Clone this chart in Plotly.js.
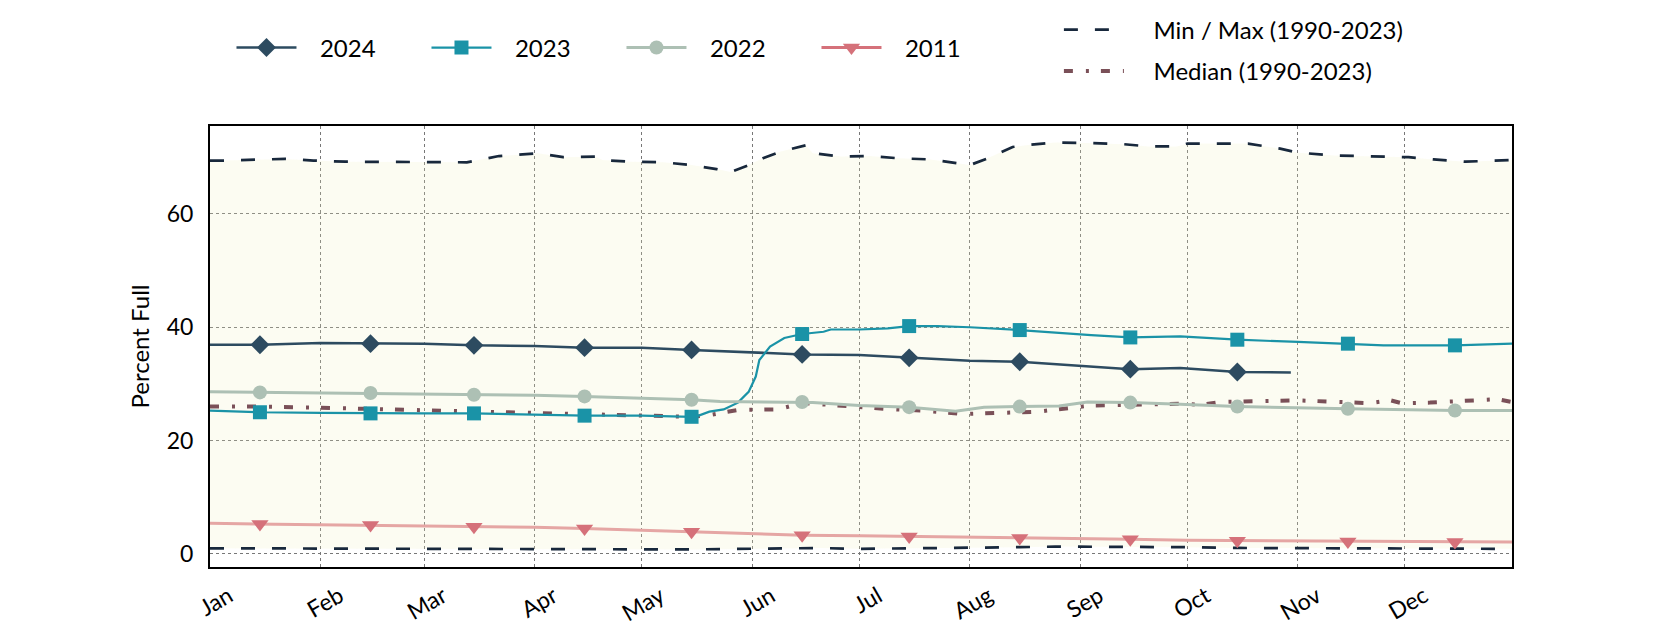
<!DOCTYPE html>
<html>
<head>
<meta charset="utf-8">
<script src="https://cdn.plot.ly/plotly-3.0.1.min.js"></script>
<style>
  body { margin: 0; background: #fff; }
  #chart { width: 1680px; height: 630px; }
</style>
</head>
<body>
<div id="chart"></div>
<script>
// reservoir storage, percent full
var midMonth = ['2024-01-15','2024-02-15','2024-03-15','2024-04-15','2024-05-15','2024-06-15',
                '2024-07-15','2024-08-15','2024-09-15','2024-10-15','2024-11-15','2024-12-15'];

var d2024 = ['2024-01-01','2024-01-15','2024-02-01','2024-02-15','2024-03-01','2024-03-15','2024-04-01',
             '2024-04-15','2024-05-01','2024-05-15','2024-06-01','2024-06-15','2024-07-01','2024-07-15',
             '2024-08-01','2024-08-15','2024-09-01','2024-09-15','2024-09-29','2024-10-15','2024-10-30'];
var v2024 = [36.9, 36.9, 37.2, 37.1, 37.1, 36.8, 36.7, 36.4, 36.4, 36.0, 35.5, 35.2, 35.1, 34.6,
             34.1, 33.9, 33.2, 32.6, 32.8, 32.1, 32.0];
var m2024 = [36.9, 37.1, 36.8, 36.4, 36.0, 35.2, 34.6, 33.9, 32.6, 32.1];

var d2023 = ['2024-01-01','2024-01-15','2024-02-01','2024-02-15','2024-03-01','2024-03-15','2024-04-01',
             '2024-04-15','2024-05-01','2024-05-15','2024-05-17','2024-05-20','2024-05-24','2024-05-28',
             '2024-05-31','2024-06-02','2024-06-03','2024-06-06','2024-06-10','2024-06-15','2024-06-21',
             '2024-06-23','2024-07-01','2024-07-09','2024-07-15','2024-07-23','2024-08-01','2024-08-15',
             '2024-09-04','2024-09-15','2024-09-29','2024-10-15','2024-11-01','2024-11-15','2024-11-25',
             '2024-12-15','2024-12-31'];
var v2023 = [25.3, 25.0, 24.9, 24.8, 24.8, 24.8, 24.6, 24.4, 24.4, 24.2, 24.4, 25.1, 25.5, 26.7,
             28.6, 31.3, 34.2, 36.6, 38.1, 38.8, 39.2, 39.6, 39.6, 39.8, 40.2, 40.2, 40.0, 39.5,
             38.6, 38.2, 38.4, 37.8, 37.4, 37.1, 36.8, 36.8, 37.1];
var m2023 = [25.0, 24.8, 24.8, 24.4, 24.2, 38.8, 40.2, 39.5, 38.2, 37.8, 37.1, 36.8];

var d2022 = ['2024-01-01','2024-01-15','2024-02-01','2024-02-15','2024-03-01','2024-03-15','2024-04-01',
             '2024-04-15','2024-05-01','2024-05-15','2024-05-23','2024-06-15','2024-06-18','2024-07-01',
             '2024-07-15','2024-07-28','2024-08-05','2024-08-15','2024-08-26','2024-09-03','2024-09-15',
             '2024-09-29','2024-10-15','2024-11-15','2024-12-15','2024-12-31'];
var v2022 = [28.6, 28.5, 28.4, 28.4, 28.2, 28.1, 28.0, 27.8, 27.5, 27.2, 26.9, 26.8, 26.7, 26.2,
             25.9, 25.2, 25.9, 26.0, 26.1, 26.8, 26.7, 26.4, 26.0, 25.6, 25.3, 25.3];
var m2022 = [28.5, 28.4, 28.1, 27.8, 27.2, 26.8, 25.9, 26.0, 26.7, 26.0, 25.6, 25.3];

var d2011 = ['2024-01-01','2024-01-15','2024-02-15','2024-03-15','2024-04-01','2024-04-15','2024-05-15',
             '2024-06-01','2024-06-15','2024-07-01','2024-07-15','2024-08-15','2024-09-15','2024-10-01',
             '2024-10-15','2024-11-15','2024-12-15','2024-12-31'];
var v2011 = [5.4, 5.3, 5.1, 4.8, 4.7, 4.5, 3.9, 3.5, 3.3, 3.2, 3.1, 2.8, 2.6, 2.4, 2.35, 2.2, 2.1, 2.1];
var m2011 = [5.3, 5.1, 4.8, 4.5, 3.9, 3.3, 3.1, 2.8, 2.6, 2.35, 2.2, 2.1];

var dMax = ['2024-01-01','2024-01-05','2024-01-22','2024-01-30','2024-02-08','2024-02-28','2024-03-07',
            '2024-03-13','2024-03-22','2024-03-30','2024-04-02','2024-04-09','2024-04-18','2024-04-20',
            '2024-04-28','2024-05-07','2024-05-15','2024-05-22','2024-05-26','2024-05-31','2024-06-04',
            '2024-06-09','2024-06-16','2024-06-18','2024-06-26','2024-07-04','2024-07-12','2024-07-21',
            '2024-08-01','2024-08-06','2024-08-13','2024-08-18','2024-08-25','2024-09-03','2024-09-13',
            '2024-09-20','2024-09-28','2024-10-01','2024-10-18','2024-10-27','2024-11-01','2024-11-11',
            '2024-11-21','2024-12-02','2024-12-09','2024-12-18','2024-12-31'];
var vMax = [69.4, 69.4, 69.7, 69.4, 69.2, 69.2, 69.1, 69.1, 70.2, 70.6, 70.7, 70.0, 70.1, 69.5,
            69.2, 69.1, 68.6, 67.9, 67.4, 68.6, 69.8, 71.0, 72.1, 70.7, 70.1, 70.2, 69.8, 69.6,
            68.6, 69.8, 71.8, 72.2, 72.6, 72.5, 72.3, 71.9, 71.9, 72.4, 72.4, 71.5, 70.8, 70.3,
            70.1, 70.0, 69.6, 69.2, 69.5];

var dMin = ['2024-01-01','2024-03-01','2024-04-01','2024-05-15','2024-06-20','2024-07-01','2024-08-15',
            '2024-08-25','2024-09-30','2024-10-15','2024-12-31'];
var vMin = [1.0, 0.9, 0.8, 0.8, 1.05, 0.9, 1.2, 1.3, 1.2, 1.06, 0.9];

var dMed = ['2024-01-01','2024-01-15','2024-02-01','2024-02-15','2024-03-01','2024-03-15','2024-04-01',
            '2024-04-15','2024-05-01','2024-05-15','2024-05-19','2024-05-28','2024-06-08','2024-06-15',
            '2024-06-23','2024-07-01','2024-07-08','2024-07-19','2024-07-30','2024-08-10','2024-08-20',
            '2024-08-31','2024-09-04','2024-09-15','2024-09-29','2024-10-05','2024-10-10','2024-11-01',
            '2024-11-11','2024-11-21','2024-11-27','2024-11-30','2024-12-08','2024-12-27','2024-12-31'];
var vMed = [26.0, 26.0, 25.8, 25.6, 25.4, 25.1, 24.9, 24.6, 24.4, 24.2, 24.4, 25.4, 25.5, 26.6,
            26.3, 25.9, 25.6, 25.3, 24.7, 24.9, 25.1, 25.9, 26.2, 26.3, 26.5, 26.3, 26.8, 27.1,
            26.8, 26.6, 27.1, 26.6, 26.7, 27.3, 26.8];

var series = [
  {name: '2024', d: d2024, v: v2024, m: m2024, line: '#2d4b60', mk: '#2d4b60', sym: 'diamond', size: 14.5, w: 2.5},
  {name: '2023', d: d2023, v: v2023, m: m2023, line: '#1a93a7', mk: '#1a93a7', sym: 'square', size: 14, w: 2.2},
  {name: '2022', d: d2022, v: v2022, m: m2022, line: '#adc0b4', mk: '#adc0b4', sym: 'circle', size: 14, w: 3},
  {name: '2011', d: d2011, v: v2011, m: m2011, line: '#e5a6a4', mk: '#d5717a', sym: 'triangle-down', size: 15, w: 3}
];

var gap = '\u00a0\u00a0\u00a0';
var data = [];

// shaded band between min and max (translucent so the grid shows through)
data.push({x: dMin, y: vMin, mode: 'lines', line: {width: 0}, showlegend: false, hoverinfo: 'skip'});
data.push({x: dMax, y: vMax, mode: 'lines', line: {width: 0}, fill: 'tonexty',
           fillcolor: 'rgba(240,240,190,0.2)', showlegend: false, hoverinfo: 'skip'});

data.push({x: dMin, y: vMin, mode: 'lines', name: 'Min', legend: 'legend2', legendgroup: 'mm',
           showlegend: false, line: {color: '#18283c', width: 2.7, dash: '14px,17px'}});
data.push({x: dMax, y: vMax, mode: 'lines', name: gap + '\u00a0Min / Max (1990-2023)', legend: 'legend2',
           legendgroup: 'mm', line: {color: '#18283c', width: 2.7, dash: '14px,17px'}});
data.push({x: dMed, y: vMed, mode: 'lines', name: gap + '\u00a0Median (1990-2023)', legend: 'legend2',
           legendgroup: 'med', line: {color: '#7a5058', width: 4, dash: '9px,13px,3px,12px'}});

series.forEach(function(s) {
  data.push({x: s.d, y: s.v, mode: 'lines', legendgroup: s.name, showlegend: false,
             line: {color: s.line, width: s.w}});
  data.push({x: midMonth.slice(0, s.m.length), y: s.m, mode: 'markers', legendgroup: s.name,
             showlegend: false, marker: {symbol: s.sym, size: s.size, color: s.mk}});
  // legend entry only
  data.push({x: [null], y: [null], mode: 'lines+markers', name: gap + s.name, legendgroup: s.name,
             line: {color: s.mk, width: s.w}, marker: {symbol: s.sym, size: s.size, color: s.mk}});
});

var font = 'Lato, "Noto Sans", sans-serif';

var layout = {
  width: 1680,
  height: 630,
  margin: {l: 210, r: 168, t: 126, b: 63, autoexpand: false},
  paper_bgcolor: '#fff',
  plot_bgcolor: '#fff',
  font: {family: font, size: 22, color: '#000'},
  showlegend: true,
  legend: {
    orientation: 'h', x: 0.0165, y: 1.177, xanchor: 'left', yanchor: 'middle',
    font: {size: 24}, itemwidth: 60, entrywidth: 120, bgcolor: 'rgba(0,0,0,0)'
  },
  legend2: {
    orientation: 'v', x: 0.652, y: 1.171, xanchor: 'left', yanchor: 'middle',
    font: {size: 24}, itemwidth: 60, tracegroupgap: 7, bgcolor: 'rgba(0,0,0,0)'
  },
  xaxis: {
    type: 'date',
    range: ['2024-01-01', '2024-12-31'],
    tick0: '2024-01-01', dtick: 'M1', tickformat: '%b',
    tickangle: -30, ticklabelshift: 19, ticklabelstandoff: 5,
    showgrid: true, gridcolor: '#777', griddash: 'dot', gridwidth: 1,
    showline: true, mirror: true, linecolor: '#000', linewidth: 2,
    zeroline: false, ticks: '', tickfont: {size: 23}
  },
  yaxis: {
    range: [-2.3, 75.5],
    tick0: 0, dtick: 20,
    showgrid: true, gridcolor: '#777', griddash: 'dot', gridwidth: 1,
    showline: true, mirror: true, linecolor: '#000', linewidth: 2,
    zeroline: false, ticks: '', ticklabelstandoff: 10, tickfont: {size: 23},
    title: {text: 'Percent Full', font: {size: 24}, standoff: 10}
  }
};

Plotly.newPlot('chart', data, layout, {displayModeBar: false});
</script>
</body>
</html>
